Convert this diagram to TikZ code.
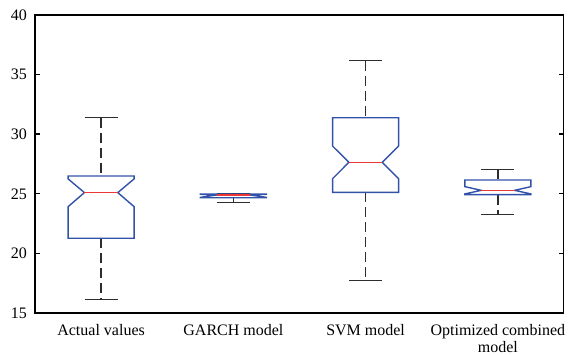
\documentclass[tikz,border=0pt]{standalone}
\usepackage{fontspec}
\setmainfont{Liberation Serif}
\definecolor{boxblue}{RGB}{50,82,170}
\definecolor{medred}{RGB}{235,55,55}
\definecolor{whiskgray}{RGB}{45,45,45}
\tikzset{
  boxline/.style={draw=boxblue,line width=1.4pt,line join=miter},
  medline/.style={draw=medred,line width=1.5pt},
  whiskline/.style={draw=whiskgray,line width=1.4pt,dash pattern=on 10pt off 5pt},
  capline/.style={draw=whiskgray,line width=1.4pt},
  axisline/.style={draw=black,line width=1.4pt},
  ticklabel/.style={anchor=east,inner sep=0pt,font=\fontsize{16}{17}\selectfont},
  catlabel/.style={anchor=north,inner sep=0pt,align=center,font=\fontsize{16}{17}\selectfont},
}
\newcommand{\bxplot}[8]{%
  \draw[whiskline] (#1,#8) -- (#1,#7);
  \draw[whiskline] (#1,#3) -- (#1,#2);
  \draw[capline] ({#1-16.5},#8) -- ({#1+16.5},#8);
  \draw[capline] ({#1-16.5},#2) -- ({#1+16.5},#2);
  \draw[boxline] ({#1-33},#3) -- ({#1-33},#4) -- ({#1-16.7},#5) -- ({#1-33},#6) -- ({#1-33},#7) -- ({#1+33},#7) -- ({#1+33},#6) -- ({#1+16.7},#5) -- ({#1+33},#4) -- ({#1+33},#3) -- cycle;
  \draw[medline] ({#1-16.7},#5) -- ({#1+16.7},#5);
}
\begin{document}
\begin{tikzpicture}[x=1pt,y=1pt]
\useasboundingbox (0,0) rectangle (570,355);
\begin{scope}[shift={(0,-136.8)},y=11.92pt]
  % boxes: x, wlo, q1, nlo, med, nhi, q3, whi
  \bxplot{101.1}{16.12}{21.27}{23.92}{25.10}{26.25}{26.49}{31.38}
  \bxplot{233.4}{24.29}{24.67}{24.70}{24.90}{24.96}{24.98}{25.04}
  \bxplot{365.6}{17.71}{25.12}{26.27}{27.64}{29.00}{31.38}{36.17}
  \bxplot{497.9}{23.25}{24.93}{24.99}{25.29}{25.60}{26.16}{27.05}
  % axes
  \draw[axisline] (35,15) rectangle (563.5,40);
  \foreach \v in {15,20,...,40} {
    \draw[axisline] (35,\v) -- (40,\v);
    \draw[axisline] (563.5,\v) -- (558.5,\v);
    \node[ticklabel] (t\v) at (27,\v) {\v};
  }
\end{scope}
\node[catlabel] (c1) at (101.1,31) {Actual values};
\node[catlabel] (c2) at (233.4,31) {GARCH model};
\node[catlabel] (c3) at (365.6,31) {SVM model};
\node[catlabel] (c4) at (497.9,31) {Optimized combined\\model};
\end{tikzpicture}
\end{document}
